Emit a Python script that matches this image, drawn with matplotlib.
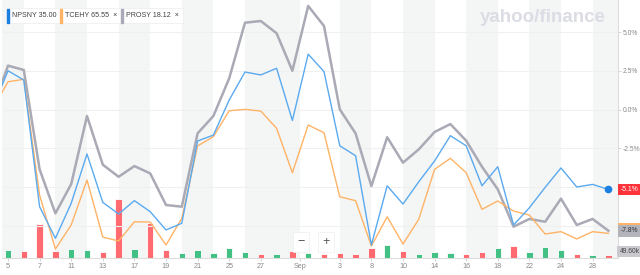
import matplotlib
matplotlib.use("Agg")
import matplotlib.pyplot as plt
import numpy as np

# trading days, Aug 4 2020 (base, 0%) .. Sep 29 2020
days = ["08-04", "08-05", "08-06", "08-07", "08-10", "08-11", "08-12", "08-13", "08-14",
        "08-17", "08-18", "08-19", "08-20", "08-21", "08-24", "08-25", "08-26", "08-27",
        "08-28", "08-31", "09-01", "09-02", "09-03", "09-04", "09-08", "09-09", "09-10",
        "09-11", "09-14", "09-15", "09-16", "09-17", "09-18", "09-21", "09-22", "09-23",
        "09-24", "09-25", "09-28", "09-29"]

# % change since Aug 4
npsny = [0.0, 2.50, 1.90, -6.27, -8.31, -6.05, -2.87, -5.99, -6.74, -5.88, -6.59, -7.77,
         -7.34, -2.03, -1.65, 0.61, 2.42, 2.23, 2.66, -0.71, 3.57, 2.45, -2.34, -2.98,
         -8.74, -4.92, -6.10, -4.66, -3.32, -1.69, -2.34, -4.92, -3.69, -7.45, -6.34,
         -5.02, -3.77, -5.00, -4.83, -5.16]
tcehy = [0.0, 1.79, 1.95, -5.52, -9.00, -7.45, -4.55, -8.23, -8.48, -7.24, -7.26, -8.74,
         -7.02, -2.35, -1.75, -0.08, 0.01, -0.10, -1.21, -4.08, -1.00, -1.50, -5.63, -5.88,
         -8.81, -6.92, -8.68, -7.08, -3.86, -3.15, -4.08, -6.44, -5.90, -6.55, -6.81,
         -8.03, -7.88, -8.35, -7.88, -7.99]
prosy = [0.0, 2.83, 2.55, -3.86, -6.70, -4.81, -0.42, -3.56, -4.34, -3.65, -4.12, -6.16,
         -6.27, -1.54, -0.42, 2.01, 5.60, 5.71, 4.92, 2.50, 6.68, 5.39, 0.01, -1.54,
         -4.94, -1.79, -3.43, -2.57, -1.45, -0.94, -2.01, -3.69, -5.15, -7.56, -7.06,
         -7.24, -5.75, -7.45, -7.06, -7.82]

# NPSNY volume (thousands), from Aug 5; up = price rose that day
volume = [139, 126, 603, 121, 149, 144, 103, 1053, 162, 630, 139, 85, 139, 85, 175, 95,
          72, 72, 113, 77, 72, 85, 67, 167, 229, 121, 59, 103, 90, 67, 103, 167, 203, 103,
          198, 139, 59, 49, 49.6]
vol_up = [1, 0, 0, 0, 1, 1, 0, 0, 1, 0, 0, 1, 1, 1, 1, 1, 0, 1, 0, 1, 0, 0, 0, 0, 1, 0,
          1, 1, 1, 0, 0, 1, 0, 1, 1, 1, 0, 1, 0]

tick_pos = [0, 2, 4, 6, 8, 10, 12, 14, 16, 18.5, 21, 23, 25, 27, 29, 31, 33, 35, 37]
tick_labels = ["5", "7", "11", "13", "17", "19", "21", "25", "27", "Sep", "3", "8", "10",
               "14", "16", "18", "22", "24", "28"]
shade = [(-2, 1), (3, 5), (7, 9), (11, 13), (15, 18.5), (21, 23), (25, 27), (29, 31),
         (33, 35), (37, 40)]
pct_ticks = [5.0, 2.5, 0.0, -2.5]

names = ["NPSNY", "TCEHY", "PROSY"]
last_price = [35.00, 65.55, 18.12]
colors = ["#5aaaf0", "#ffb366", "#a9aab5"]

plt.rcParams['font.family'] = ['Liberation Sans', 'DejaVu Sans']

fig = plt.figure(figsize=(6.4, 2.75), dpi=100)
W, H = 640.0, 275.0
rect = [2 / W, (H - 257.7) / H, 616 / W, 257.7 / H]
axv = fig.add_axes(rect)
ax = fig.add_axes(rect, sharex=axv)
ax.patch.set_visible(False)

x = np.arange(len(days)) - 1  # Aug 5 sits at 0
axv.set_xlim(-0.38, 38.61)

# background bands and volume
for a, b in shade:
    axv.axvspan(a, b, color="#f4f5f5", lw=0, zorder=0)
xv = np.arange(len(volume))
vcol = ["#43c185" if u else "#ff6b70" for u in vol_up]
axv.bar(xv, volume, width=0.4, color=vcol, edgecolor="white", linewidth=0.6, zorder=2)
axv.set_ylim(0, 257.7 * 18)
axv.axis("off")

# percent lines
ax.set_ylim(-9.56, 7.065)
for v in pct_ticks + [-5.0, -7.5]:
    ax.axhline(v, color="#f0f0f0", lw=0.8, zorder=1)
ax.plot(x, prosy, color=colors[2], lw=1.8, zorder=3)
ax.plot(x, tcehy, color=colors[1], lw=1.0, zorder=4)
ax.plot(x, npsny, color=colors[0], lw=1.0, zorder=5)
ax.plot(x[-1], npsny[-1], 'o', color="#1a7fe0", ms=4.5, zorder=6)

for s in ["top", "left", "bottom"]:
    ax.spines[s].set_visible(False)
ax.spines["right"].set_color("#dddddd")
ax.spines["right"].set_linewidth(0.8)
ax.yaxis.tick_right()
ax.set_yticks(pct_ticks)
ax.set_yticklabels(["%.1f%%" % v for v in pct_ticks])
ax.tick_params(axis="y", length=2.5, width=0.6, color="#cccccc", labelsize=4.9,
               labelcolor="#8a8a8a", pad=0.8)
ax.set_xticks(tick_pos)
ax.set_xticklabels(tick_labels)
ax.tick_params(axis="x", length=2.5, width=0.6, color="#cccccc", labelsize=5.2,
               labelcolor="#8a8a8a", pad=1.5)
ax.axhline(-9.56, color="#dddddd", lw=0.8, clip_on=False)

# value boxes at the right edge
def tag(val, txt, fc, tc, dy=0):
    ax.annotate(txt, xy=(1.0, val), xycoords=("axes fraction", "data"),
                xytext=(2, dy), textcoords="offset points", ha="left", va="center",
                fontsize=4.9, color=tc, annotation_clip=False, zorder=10,
                bbox=dict(boxstyle="square,pad=0.35", fc=fc, ec="none"))

tag(npsny[-1], "-5.1%", "#ff333a", "white")
tag(tcehy[-1], "-8.0%", colors[1], "#333333", dy=3)
tag(prosy[-1], "-7.8%", "#b3b3bb", "#333333")
ax.annotate("49.60k", xy=(1.0, 0), xycoords="axes fraction", xytext=(1, 4.5),
            textcoords="offset points", ha="left", va="center", fontsize=4.8,
            color="#444444", annotation_clip=False, zorder=10,
            bbox=dict(boxstyle="square,pad=0.35", fc="#c9c9ce", ec="none"))

# legend chips
chip_x = [7, 60, 121]
for i, n in enumerate(names):
    label = "%s %.2f" % (n, last_price[i]) + ("" if i == 0 else "  \u00d7")
    fig.text((chip_x[i] + 5) / W, 1 - 15.5 / H, label, fontsize=5.1, color="#404040",
             va="center", ha="left", zorder=20,
             bbox=dict(boxstyle="square,pad=0.6", fc="white", ec="#ececec", lw=0.5))
    fig.patches.append(plt.Rectangle((chip_x[i] / W, 1 - 22.5 / H), 2 / W, 14 / H,
                                     transform=fig.transFigure,
                                     color=colors[i] if i else "#1a7fe0", zorder=21))

# watermark
fig.text(606 / W, 1 - 17.5 / H, "yahoo/finance", fontsize=13.5, fontweight="bold",
         color="#dcdde4", ha="right", va="center")

# zoom buttons
fig.text(301 / W, 1 - 242 / H, "\u2212", fontsize=9, color="#555555", ha="center",
         va="center", bbox=dict(boxstyle="square,pad=0.35", fc="white", ec="#eeeeee", lw=0.5))
fig.text(326 / W, 1 - 242 / H, "+", fontsize=9, color="#555555", ha="center",
         va="center", bbox=dict(boxstyle="square,pad=0.35", fc="white", ec="#eeeeee", lw=0.5))

fig.savefig("out.png", dpi=100)
